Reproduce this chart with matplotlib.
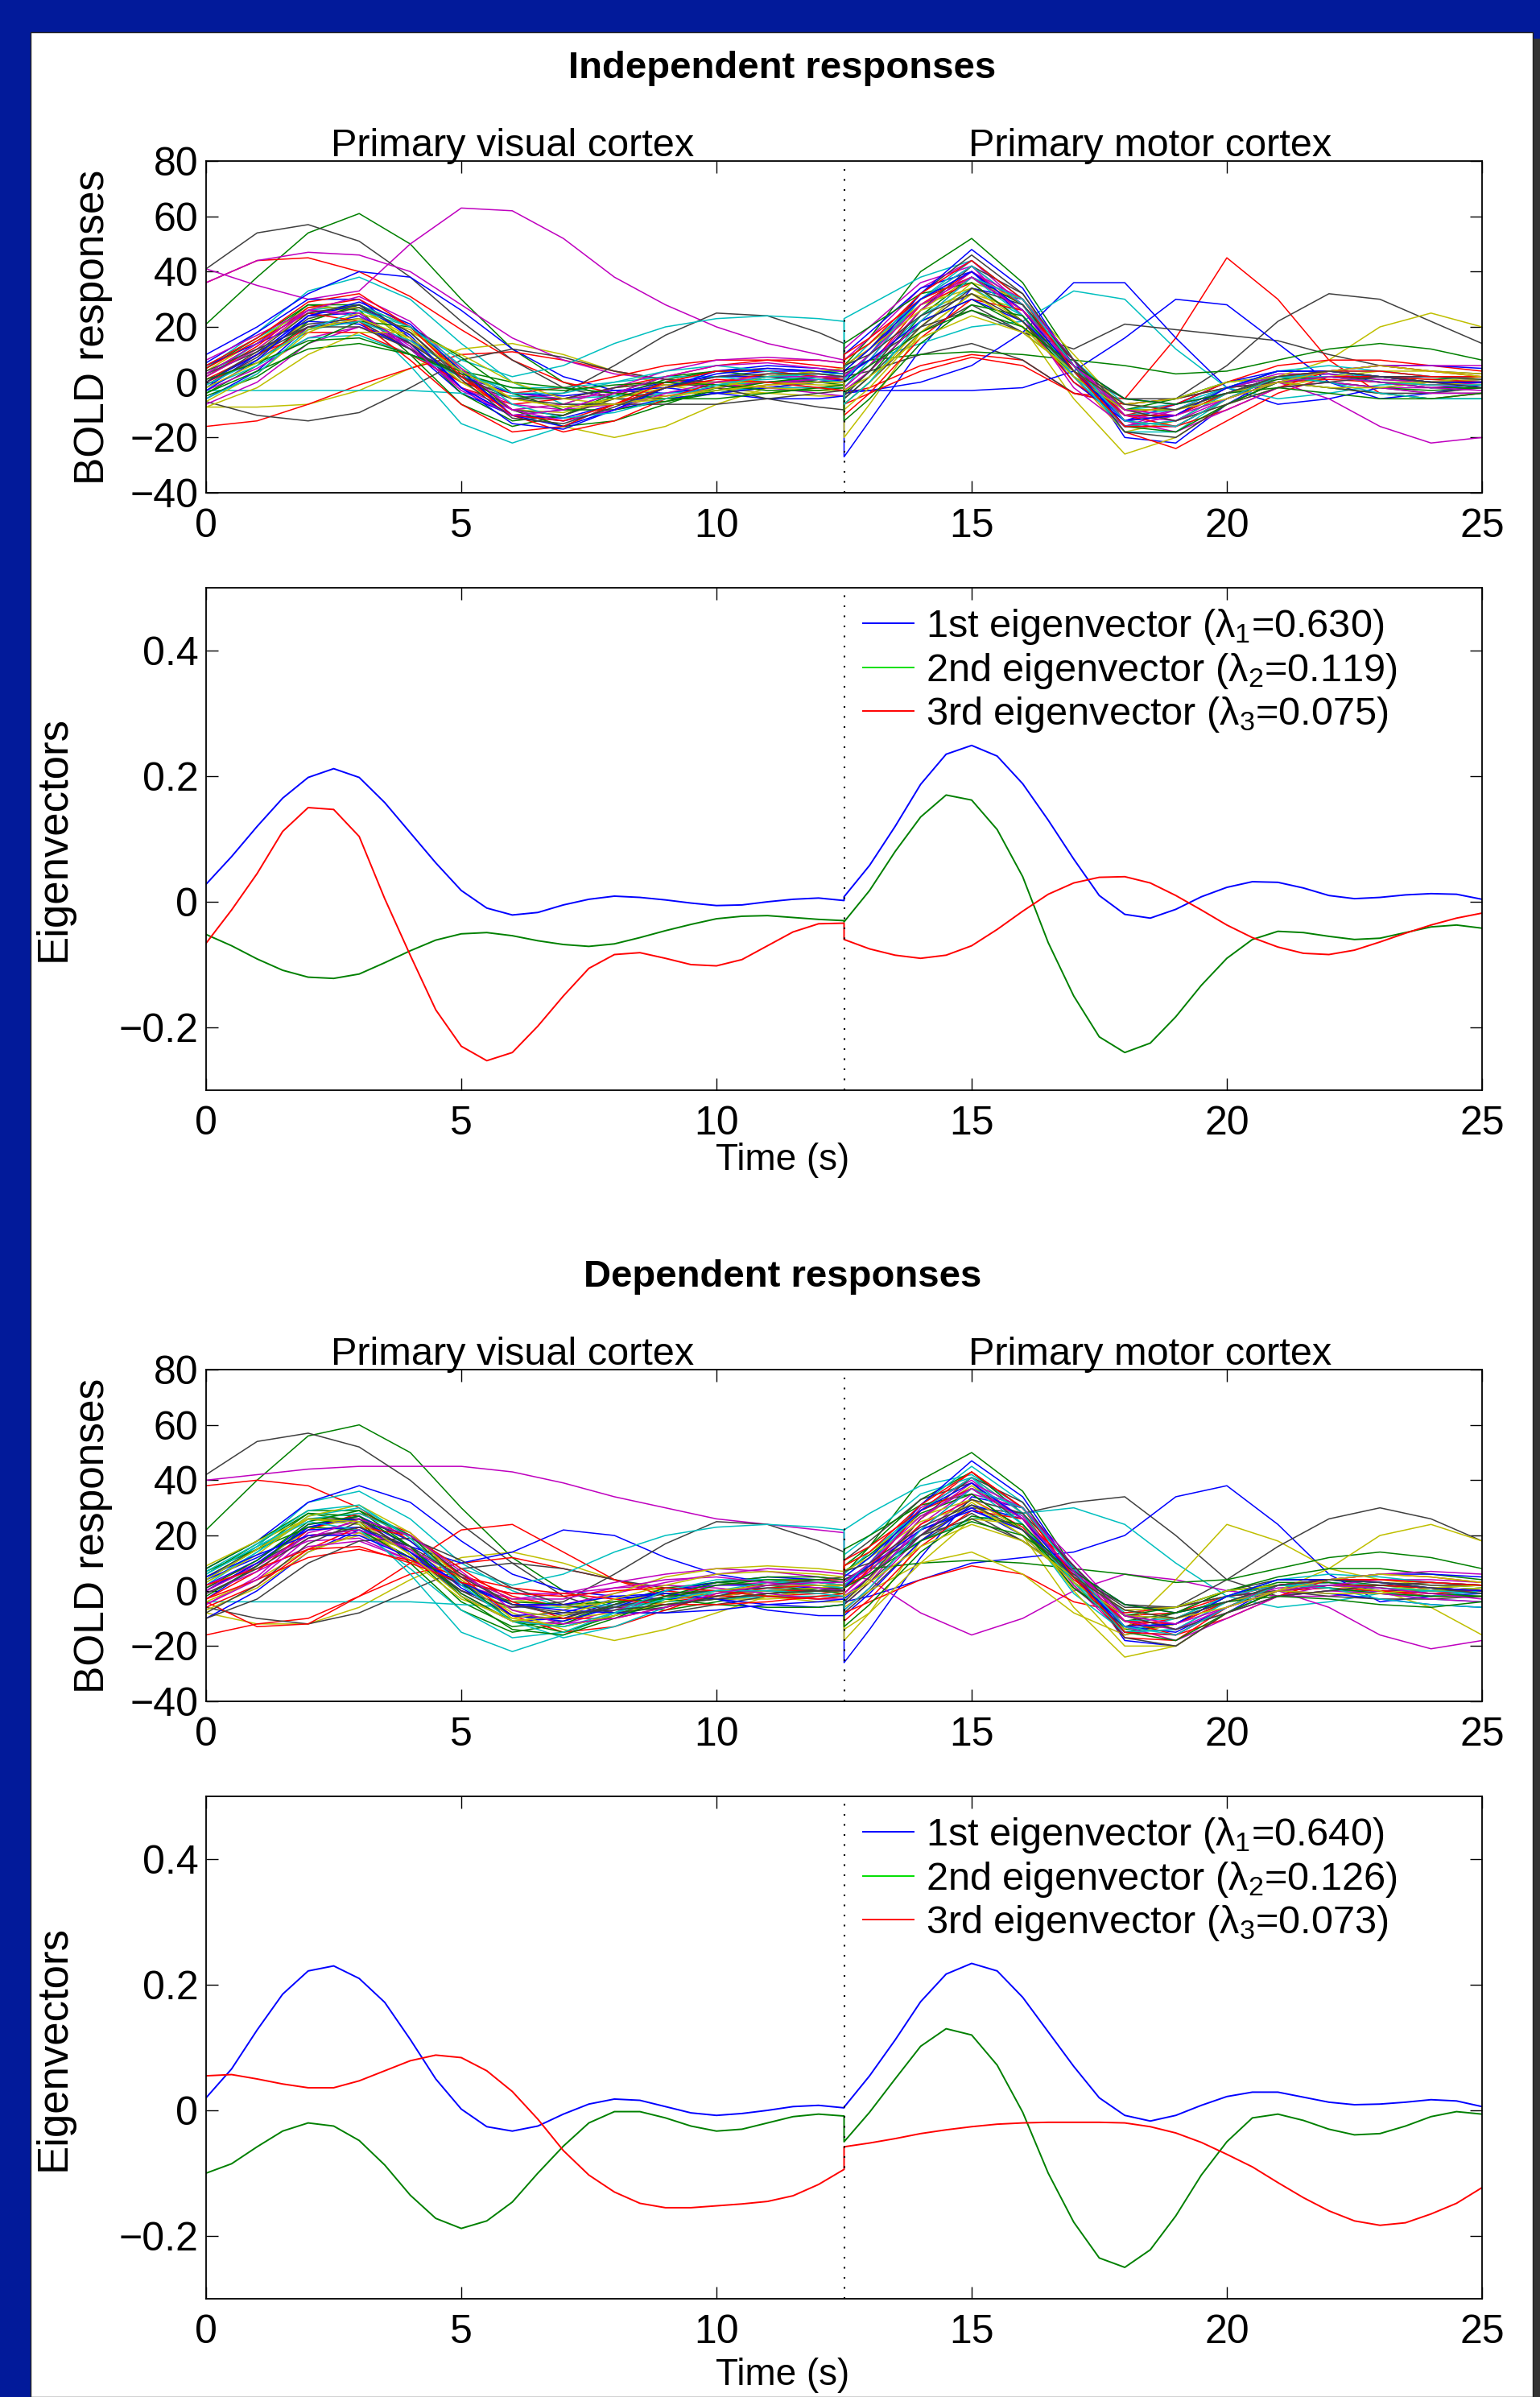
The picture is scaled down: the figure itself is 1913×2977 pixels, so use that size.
import numpy as np
import matplotlib.pyplot as plt
from matplotlib.lines import Line2D
from matplotlib.patches import Rectangle
from matplotlib.transforms import blended_transform_factory

plt.rcParams['font.family'] = ['Liberation Sans', 'DejaVu Sans']
plt.rcParams['mathtext.fontset'] = 'custom'
plt.rcParams['mathtext.rm'] = 'Liberation Sans'
plt.rcParams['mathtext.it'] = 'Liberation Sans'

W, H = 1913, 2977

# couleurs matlab (ordre par defaut)
colors = [(0, 0, 1), (0, 0.5, 0), (1, 0, 0), (0, 0.75, 0.75),
          (0.75, 0, 0.75), (0.75, 0.75, 0), (0.25, 0.25, 0.25)]

# temps : cortex visuel 0..12.5, cortex moteur 12.5..25
t_vis = list(range(13)) + [12.5]
t_mot = [12.5] + list(range(13, 26))
t_eig_vis = list(np.arange(0, 12.51, 0.5))
t_eig_mot = list(np.arange(12.5, 25.01, 0.5))

# ---- reponses BOLD, independantes (une ligne par voxel) ----
ind_vis = [
    [-2, 10, 24, 25, 12, -4, -12, -10, -4, 0, 2, 2, 1, 0],
    [21, 38, 54, 61, 50, 30, 12, 0, -6, -7, -4, -1, 1, 2],
    [36, 44, 45, 40, 31, 19, 8, 0, -4, -5, -3, -1, 0, 1],
    [5, 18, 33, 38, 30, 14, 0, -8, -8, -4, -1, 0, 1, 2],
    [41, 35, 30, 33, 50, 63, 62, 52, 38, 28, 20, 14, 10, 8],
    [-9, -9, -8, -3, 5, 12, 14, 10, 4, -1, -4, -4, -2, -1],
    [41, 54, 57, 51, 38, 22, 8, -2, -6, -6, -4, -2, 0, 1],
    [10, 20, 32, 40, 38, 26, 12, 2, -3, -4, -2, 0, 1, 1],
    [3, 14, 28, 28, 14, -4, -14, -12, -5, 1, 4, 4, 2, 1],
    [-16, -14, -8, -1, 5, 10, 11, 8, 4, 1, -1, -2, -2, -2],
    [-3, -3, -3, -3, -3, -4, -5, -6, -5, -4, -3, -2, -2, -2],
    [36, 44, 47, 46, 40, 28, 16, 8, 3, 1, 0, 0, 0, 0],
    [0, 10, 22, 28, 20, 4, -10, -16, -20, -16, -8, -2, 0, 0],
    [-7, -12, -14, -11, -2, 8, 12, 9, 4, 1, 0, 0, 1, 1],
    [-6, 4, 20, 24, 14, -2, -12, -13, -8, -2, 2, 4, 4, 3],
    [5, 16, 28, 26, 10, -8, -16, -12, -4, 2, 4, 2, 0, -1],
    [0, 8, 20, 22, 12, -2, -8, -6, -2, 2, 6, 8, 8, 7],
    [2, 14, 26, 24, 6, -15, -22, -16, -8, -2, 0, 1, 2, 2],
    [-8, 0, 14, 20, 14, 2, -8, -10, -8, -5, -2, 0, 1, 1],
    [2, 12, 25, 27, 16, 0, -10, -8, -2, 0, -2, -4, -5, -5],
    [0, 10, 20, 22, 12, 0, -6, -4, 6, 17, 25, 24, 18, 14],
    [7, 18, 30, 30, 16, -2, -12, -14, -10, -6, -4, -2, 0, 1],
    [-4, 6, 22, 28, 20, 4, -10, -16, -14, -8, -2, 2, 4, 4],
    [1, 10, 18, 18, 10, 0, -4, -2, 2, 6, 8, 8, 6, 5],
    [6, 16, 26, 28, 20, 8, 2, 6, 14, 20, 23, 24, 23, 22],
    [-3, 5, 16, 20, 15, 4, -4, -6, -4, -1, 0, -2, -4, -5],
    [4, 15, 27, 27, 15, 0, -10, -11, -6, -1, 0, -2, -3, -3],
    [-1, 9, 23, 27, 18, 2, -10, -12, -6, 0, 4, 5, 4, 3],
    [6, 14, 22, 21, 12, 2, -4, -5, -3, -2, -4, -6, -6, -5],
    [-5, 2, 14, 22, 20, 9, -4, -10, -10, -7, -3, 0, 2, 2],
    [2, 13, 27, 30, 20, 3, -12, -18, -14, -6, 0, 3, 3, 2],
    [-2, 6, 16, 17, 10, 2, -2, -2, 0, 2, 2, 0, -2, -3],
    [8, 17, 26, 24, 12, -2, -10, -8, -2, 4, 8, 9, 8, 7],
    [-7, 3, 18, 25, 19, 5, -6, -9, -6, -2, 0, 0, -1, -1],
    [3, 11, 21, 23, 14, 2, -6, -6, -2, 0, -2, -6, -9, -10],
    [0, 10, 24, 29, 21, 4, -12, -16, -10, -2, 4, 6, 5, 4],
    [-4, 4, 12, 14, 10, 4, 0, -2, -4, -6, -6, -4, -2, -1],
    [5, 15, 25, 22, 8, -8, -18, -16, -8, 0, 4, 4, 2, 1],
    [-1, 8, 19, 22, 15, 4, -4, -4, 0, 4, 6, 4, 1, 0],
    [2, 12, 26, 31, 22, 5, -10, -14, -10, -4, 0, 2, 2, 2],
    [-9, -2, 10, 18, 18, 10, 0, -6, -8, -6, -2, 2, 4, 5],
    [4, 12, 20, 20, 12, 2, -6, -8, -8, -8, -8, -6, -4, -3],
    [-3, 8, 24, 28, 17, -2, -15, -17, -10, -2, 3, 5, 4, 3],
    [1, 7, 15, 16, 10, 3, -2, -3, -1, 0, -1, -3, -3, -2],
    [6, 16, 29, 32, 20, 2, -12, -14, -8, -2, 1, 0, -2, -3],
    [-6, 3, 19, 26, 20, 6, -8, -13, -11, -6, -1, 2, 3, 3],
    [3, 14, 26, 25, 13, -3, -12, -10, -4, 2, 6, 7, 5, 4],
    [-2, 7, 19, 23, 16, 4, -6, -9, -8, -5, -3, -1, 0, 0],
    [0, 11, 25, 28, 18, 1, -13, -15, -9, -2, 2, 3, 3, 2],
]
ind_mot = [
    [-27, -14, 12, 34, 30, 8, -20, -22, -8, 2, 3, 0, -2, -1],
    [6, 16, 40, 52, 36, 8, -14, -12, -2, 4, 4, 2, 1, 2],
    [-4, -2, 6, 10, 8, -4, -6, 16, 45, 30, 8, -4, -6, -4],
    [23, 28, 38, 44, 30, 8, -8, -6, 0, 2, 3, 2, 0, 0],
    [2, 10, 30, 42, 28, 4, -14, -10, -2, 2, 2, 0, -1, 0],
    [-20, -8, 18, 32, 20, -6, -26, -20, -8, 0, 2, 2, 0, 1],
    [2, 4, 10, 14, 8, -4, -8, -6, 6, 22, 32, 30, 22, 14],
    [-4, -3, 0, 6, 18, 36, 36, 16, -2, -8, -6, -2, 0, 0],
    [-6, 2, 24, 38, 28, 6, -12, -12, -4, 1, 2, 1, 0, 0],
    [0, 6, 28, 40, 28, 2, -18, -24, -14, -4, 2, 2, 0, 0],
    [4, 8, 14, 20, 22, 33, 30, 12, -2, -6, -4, -1, 0, 1],
    [8, 16, 34, 44, 28, 2, -16, -12, -2, 3, 3, 1, 0, 1],
    [-4, 4, 26, 38, 26, 2, -18, -14, -4, 2, 8, 20, 25, 20],
    [-8, 0, 18, 28, 18, 12, 21, 19, 17, 15, 10, 6, 4, 3],
    [-3, -3, -3, -3, -2, 4, 16, 30, 28, 14, 0, -6, -4, -1],
    [4, 8, 10, 11, 10, 8, 6, 3, 4, 8, 12, 14, 12, 8],
    [-8, -4, 4, 9, 6, -4, -8, -6, -2, 0, 1, 0, -1, 0],
    [0, 6, 24, 34, 24, 4, -10, -8, -2, 2, 4, 4, 2, 1],
    [2, 8, 30, 40, 26, 2, -16, -12, -2, 0, -6, -16, -22, -20],
    [-10, -2, 18, 32, 26, 6, -14, -16, -6, 2, 4, 2, 0, -1],
    [4, 12, 32, 46, 32, 6, -16, -14, -4, 2, 0, -2, -4, -4],
    [10, 18, 34, 40, 24, 0, -14, -8, 0, 4, 4, 2, 2, 2],
    [-4, 4, 22, 30, 20, 2, -10, -10, -4, 0, -2, -4, -6, -6],
    [6, 12, 28, 36, 22, 0, -12, -8, 0, 6, 8, 8, 6, 4],
    [-2, 8, 30, 44, 30, 4, -18, -18, -6, 2, 2, 0, -2, -2],
    [12, 20, 36, 42, 24, -2, -16, -10, -2, 2, 0, -2, -2, 0],
    [-8, 0, 20, 36, 30, 10, -10, -14, -8, -2, 2, 4, 4, 3],
    [3, 8, 20, 26, 18, 4, -6, -6, -2, 0, -2, -4, -4, -2],
    [0, 10, 32, 48, 34, 6, -16, -16, -6, 0, 2, 2, 0, 0],
    [14, 20, 32, 36, 22, 2, -10, -6, 0, 2, 0, -2, -3, -2],
    [-12, -4, 16, 30, 26, 8, -12, -16, -10, -2, 4, 6, 4, 2],
    [5, 14, 30, 38, 24, 2, -12, -10, -2, 4, 6, 4, 2, 2],
    [-3, 4, 22, 38, 30, 8, -14, -18, -10, -2, 0, -2, -4, -4],
    [8, 14, 28, 34, 22, 4, -8, -6, 0, 2, 2, 0, 0, 1],
    [-5, 4, 26, 42, 32, 6, -18, -20, -8, 0, 2, 2, 0, 0],
    [2, 8, 22, 30, 22, 6, -6, -8, -4, 0, 4, 6, 6, 5],
    [-14, -6, 14, 28, 24, 4, -16, -18, -8, 0, 2, 0, -2, -2],
    [10, 16, 30, 38, 26, 4, -12, -12, -4, 2, 2, 2, 1, 0],
    [1, 10, 30, 42, 28, 2, -16, -14, -4, 2, 0, -4, -6, -6],
    [-2, 6, 26, 40, 30, 8, -12, -14, -6, 0, 4, 6, 6, 6],
    [6, 12, 26, 32, 20, 2, -10, -10, -4, 0, -2, -2, 0, 2],
    [-6, 2, 20, 34, 28, 8, -10, -14, -8, -2, 0, 2, 2, 1],
    [4, 12, 30, 40, 26, 4, -14, -12, -2, 4, 4, 2, 0, 0],
    [0, 6, 18, 26, 20, 6, -6, -8, -4, -2, -4, -6, -6, -4],
    [8, 14, 32, 44, 30, 4, -16, -16, -6, 2, 4, 4, 2, 2],
    [-8, 0, 22, 38, 30, 6, -14, -16, -6, 2, 2, 0, -1, -1],
    [2, 10, 28, 38, 26, 6, -10, -12, -6, 0, 2, 0, -2, -3],
    [-3, 2, 16, 24, 18, 4, -8, -10, -6, 0, 4, 6, 4, 2],
    [6, 10, 24, 32, 22, 4, -8, -10, -4, 2, 4, 2, 0, -2],
]

# ---- reponses BOLD, dependantes ----
dep_vis = [
    [-3, 9, 23, 26, 14, -2, -11, -10, -4, 0, 2, 2, 1, 0],
    [22, 40, 56, 60, 50, 30, 12, 0, -6, -7, -4, -1, 1, 2],
    [38, 40, 38, 30, 18, 6, -2, -6, -6, -4, -2, 0, 0, 0],
    [4, 16, 32, 36, 26, 10, 0, -6, -6, -3, -1, 0, 1, 2],
    [40, 42, 44, 45, 45, 45, 43, 39, 34, 30, 26, 24, 22, 21],
    [-8, -12, -12, -6, 4, 12, 14, 10, 4, -1, -3, -3, -2, -1],
    [42, 54, 57, 52, 40, 24, 10, -2, -8, -8, -5, -2, 0, 1],
    [8, 18, 32, 38, 32, 18, 6, 0, -2, -3, -2, 0, 1, 1],
    [4, 15, 28, 27, 13, -4, -13, -11, -5, 0, 3, 4, 3, 2],
    [-16, -12, -10, -2, 6, 10, 12, 8, 4, 0, -2, -2, -1, 0],
    [-4, -4, -4, -4, -4, -5, -6, -6, -5, -4, -3, -2, -2, -2],
    [-5, 5, 21, 25, 15, -1, -11, -12, -7, -2, 2, 3, 3, 2],
    [0, 10, 22, 27, 18, 4, -8, -14, -18, -14, -8, -2, 0, 0],
    [-6, -10, -12, -8, 0, 8, 10, 8, 4, 1, 0, 0, 1, 1],
    [-10, 0, 14, 22, 16, 10, 14, 22, 20, 12, 6, 3, 2, 2],
    [6, 17, 28, 25, 10, -7, -15, -12, -5, 1, 3, 2, 0, -1],
    [-4, -13, -12, -2, 10, 22, 24, 14, 4, -2, -3, -1, 0, 1],
    [2, 14, 26, 24, 6, -15, -22, -16, -8, -2, 0, 1, 2, 2],
    [1, 9, 20, 21, 12, 0, -6, -5, -1, 3, 6, 8, 7, 6],
    [-7, 1, 14, 21, 15, 3, -7, -10, -8, -5, -2, 0, 1, 2],
    [0, 10, 20, 22, 12, 0, -6, -4, 6, 17, 25, 24, 18, 14],
    [2, 11, 24, 26, 16, 1, -9, -8, -3, -1, -3, -5, -6, -5],
    [8, 18, 29, 29, 16, -1, -11, -13, -9, -5, -3, -1, 0, 1],
    [-3, 7, 22, 28, 21, 5, -9, -15, -13, -7, -1, 3, 4, 4],
    [6, 16, 26, 28, 20, 8, 2, 6, 14, 20, 23, 24, 23, 22],
    [2, 10, 18, 19, 11, 2, -3, -1, 3, 6, 8, 7, 5, 4],
    [-4, 4, 15, 20, 15, 5, -3, -6, -4, -1, 0, -2, -4, -4],
    [5, 15, 26, 26, 14, 0, -9, -10, -5, -1, 0, -2, -3, -2],
    [0, 10, 23, 27, 18, 3, -9, -11, -6, 0, 3, 5, 4, 3],
    [7, 15, 23, 22, 12, 2, -4, -5, -4, -3, -5, -6, -6, -5],
    [-6, 2, 15, 23, 20, 8, -4, -10, -10, -6, -2, 1, 2, 2],
    [3, 14, 27, 30, 20, 3, -11, -17, -13, -6, 0, 3, 3, 2],
    [-1, 7, 16, 18, 11, 3, -1, -1, 1, 2, 1, -1, -3, -3],
    [9, 18, 26, 24, 11, -3, -10, -7, -1, 5, 8, 9, 8, 7],
    [-8, 2, 17, 25, 20, 6, -5, -9, -6, -2, 0, 1, 0, 0],
    [4, 12, 22, 23, 14, 2, -5, -5, -2, -1, -3, -7, -9, -9],
    [1, 11, 25, 29, 20, 3, -11, -15, -9, -2, 3, 5, 5, 4],
    [-3, 4, 12, 15, 11, 5, 1, -1, -3, -5, -5, -4, -2, -1],
    [6, 16, 25, 22, 8, -7, -17, -15, -8, 0, 4, 4, 2, 1],
    [0, 9, 20, 22, 15, 5, -3, -3, 1, 4, 5, 3, 1, 0],
    [3, 13, 27, 31, 21, 4, -10, -13, -9, -4, 0, 2, 2, 2],
    [-10, -3, 10, 18, 19, 11, 1, -5, -8, -6, -2, 2, 4, 5],
    [5, 13, 20, 20, 12, 3, -5, -7, -8, -8, -7, -5, -4, -3],
    [-2, 9, 24, 27, 16, -2, -14, -16, -10, -3, 2, 4, 4, 3],
    [2, 8, 15, 16, 10, 3, -1, -2, 0, 1, 0, -2, -3, -2],
    [7, 17, 29, 31, 19, 2, -11, -13, -8, -3, 0, 0, -1, -2],
    [-5, 4, 19, 26, 20, 7, -7, -12, -10, -6, -1, 2, 3, 3],
    [4, 15, 26, 25, 13, -2, -11, -9, -3, 2, 6, 7, 6, 5],
    [-1, 8, 19, 23, 16, 5, -5, -8, -7, -5, -3, -1, 0, 0],
]
dep_mot = [
    [-26, -14, 12, 34, 30, 8, -18, -20, -8, 2, 3, 0, -2, -1],
    [6, 16, 40, 50, 36, 8, -14, -12, -2, 4, 4, 2, 1, 2],
    [1, 9, 29, 41, 28, 5, -13, -10, -2, 2, 3, 1, -1, 0],
    [22, 28, 38, 42, 30, 8, -8, -6, 0, 2, 3, 2, 0, 0],
    [-5, 3, 24, 37, 27, 6, -11, -12, -4, 1, 2, 2, 1, 0],
    [-18, -8, 18, 32, 20, -6, -24, -20, -8, 0, 2, 2, 0, 1],
    [2, 6, 20, 30, 28, 32, 34, 20, 4, -2, 0, 0, 0, 0],
    [-4, -2, 4, 10, 12, 14, 20, 34, 38, 24, 6, -4, -2, 0],
    [9, 16, 33, 43, 28, 3, -15, -12, -2, 3, 3, 1, 0, 1],
    [1, 7, 24, 33, 23, 4, -9, -8, -2, 2, 4, 4, 3, 2],
    [4, 8, 18, 26, 28, 30, 24, 10, -2, -6, -4, -1, 0, 1],
    [6, 4, -8, -16, -10, 0, 6, 4, 0, -2, -2, 0, -1, 0],
    [-4, 4, 26, 38, 26, 2, -14, 4, 24, 18, 8, 4, 2, 2],
    [-8, 0, 18, 28, 18, 6, -6, -6, 4, 16, 26, 30, 26, 18],
    [-9, -1, 18, 31, 26, 7, -13, -15, -6, 2, 4, 3, 1, 0],
    [4, 8, 10, 11, 10, 8, 6, 3, 4, 8, 12, 14, 12, 8],
    [-8, -4, 4, 9, 6, -4, -8, -6, -2, 0, 1, 0, -1, 0],
    [5, 12, 31, 45, 32, 7, -15, -14, -4, 2, 1, -1, -3, -4],
    [2, 8, 30, 40, 26, 2, -16, -12, -2, 0, -6, -16, -21, -18],
    [-6, 0, 10, 14, 6, -8, -16, -12, -4, 0, 8, 20, 24, 18],
    [11, 18, 33, 39, 24, 1, -13, -8, 0, 4, 4, 3, 2, 2],
    [-3, 5, 22, 30, 20, 3, -9, -10, -4, 0, -1, -3, -5, -6],
    [7, 13, 28, 35, 22, 1, -11, -8, 0, 5, 8, 8, 6, 4],
    [-1, 8, 29, 43, 30, 5, -17, -18, -6, 2, 2, 0, -2, -2],
    [13, 20, 35, 41, 24, -1, -15, -10, -2, 2, 1, -1, -2, 0],
    [-7, 1, 20, 35, 30, 11, -9, -14, -8, -2, 2, 4, 4, 3],
    [-14, -8, 10, 26, 24, 0, -20, -20, -8, 0, 2, 0, -6, -16],
    [4, 9, 20, 26, 18, 5, -5, -6, -2, 0, -2, -3, -3, -2],
    [1, 10, 31, 47, 34, 7, -15, -16, -6, 0, 2, 2, 1, 0],
    [15, 20, 31, 35, 22, 3, -9, -6, 0, 2, 1, -1, -2, -2],
    [-11, -3, 16, 29, 26, 9, -11, -16, -10, -2, 4, 6, 5, 3],
    [6, 14, 29, 37, 24, 3, -11, -10, -2, 4, 6, 5, 3, 2],
    [-2, 5, 22, 37, 30, 9, -13, -18, -10, -2, 0, -1, -3, -4],
    [9, 14, 27, 33, 22, 5, -7, -6, 0, 2, 2, 1, 0, 1],
    [-4, 5, 26, 41, 32, 7, -17, -20, -8, 0, 2, 2, 1, 0],
    [3, 9, 22, 29, 22, 7, -5, -8, -4, 0, 4, 6, 6, 5],
    [-13, -5, 14, 27, 24, 5, -15, -18, -8, 0, 2, 1, -1, -2],
    [11, 16, 29, 37, 26, 5, -11, -12, -4, 2, 2, 2, 1, 0],
    [2, 10, 29, 41, 28, 3, -15, -14, -4, 2, 1, -3, -5, -6],
    [-1, 7, 26, 39, 30, 9, -11, -14, -6, 0, 4, 6, 7, 6],
    [7, 12, 25, 31, 20, 3, -9, -10, -4, 0, -1, -1, 1, 2],
    [-5, 3, 20, 33, 28, 9, -9, -14, -8, -2, 0, 2, 3, 2],
    [5, 12, 29, 39, 26, 5, -13, -12, -2, 4, 4, 3, 1, 0],
    [1, 6, 18, 25, 20, 7, -5, -8, -4, -2, -3, -5, -6, -4],
    [9, 14, 31, 43, 30, 5, -15, -16, -6, 2, 4, 4, 3, 2],
    [-7, 1, 22, 37, 30, 7, -13, -16, -6, 2, 2, 1, 0, -1],
    [3, 10, 27, 37, 26, 7, -9, -12, -6, 0, 2, 1, -1, -3],
    [-2, 3, 16, 24, 18, 5, -7, -10, -6, 0, 4, 6, 5, 3],
    [7, 10, 23, 31, 22, 5, -7, -10, -4, 2, 4, 3, 1, -1],
]

# ---- vecteurs propres (pas de 0.5 s) ----
ind_ev1_vis = [0.028, 0.072, 0.12, 0.165, 0.198, 0.212, 0.198, 0.158, 0.110, 0.062, 0.018, -0.010, -0.021,
               -0.017, -0.005, 0.004, 0.009, 0.007, 0.003, -0.002, -0.006, -0.005, 0.000, 0.004, 0.006, 0.002]
ind_ev1_mot = [0.008, 0.058, 0.12, 0.187, 0.235, 0.249, 0.232, 0.188, 0.13, 0.068, 0.01, -0.02, -0.026,
               -0.012, 0.008, 0.023, 0.032, 0.031, 0.022, 0.01, 0.005, 0.007, 0.011, 0.013, 0.012, 0.004]
ind_ev2_vis = [-0.052, -0.070, -0.091, -0.109, -0.120, -0.122, -0.115, -0.097, -0.078, -0.061, -0.051, -0.049, -0.054,
               -0.062, -0.068, -0.071, -0.067, -0.057, -0.046, -0.036, -0.027, -0.023, -0.022, -0.025, -0.028, -0.030]
ind_ev2_mot = [-0.032, 0.018, 0.08, 0.135, 0.17, 0.162, 0.115, 0.04, -0.065, -0.15, -0.215, -0.24, -0.225,
               -0.183, -0.133, -0.09, -0.06, -0.047, -0.049, -0.055, -0.06, -0.058, -0.049, -0.04, -0.037, -0.042]
ind_ev3_vis = [-0.066, -0.013, 0.045, 0.112, 0.150, 0.147, 0.104, 0.005, -0.085, -0.172, -0.230, -0.253, -0.240,
               -0.198, -0.150, -0.106, -0.084, -0.081, -0.090, -0.100, -0.102, -0.092, -0.070, -0.048, -0.035, -0.034]
ind_ev3_mot = [-0.06, -0.075, -0.085, -0.09, -0.085, -0.07, -0.044, -0.015, 0.012, 0.03, 0.039, 0.04, 0.03,
               0.01, -0.013, -0.037, -0.057, -0.072, -0.082, -0.084, -0.077, -0.064, -0.05, -0.037, -0.026, -0.018]

dep_ev1_vis = [0.02, 0.066, 0.128, 0.185, 0.222, 0.23, 0.21, 0.172, 0.113, 0.05, 0.002, -0.026, -0.033,
               -0.025, -0.006, 0.01, 0.018, 0.016, 0.006, -0.004, -0.008, -0.005, 0.0, 0.006, 0.008, 0.004]
dep_ev1_mot = [0.005, 0.055, 0.112, 0.173, 0.217, 0.234, 0.222, 0.18, 0.125, 0.07, 0.02, -0.008, -0.017,
               -0.008, 0.008, 0.022, 0.029, 0.029, 0.021, 0.013, 0.009, 0.01, 0.013, 0.017, 0.015, 0.006]
dep_ev2_vis = [-0.1, -0.085, -0.058, -0.033, -0.02, -0.025, -0.048, -0.087, -0.135, -0.172, -0.188, -0.176, -0.146,
               -0.1, -0.057, -0.02, -0.002, -0.002, -0.012, -0.025, -0.033, -0.03, -0.02, -0.01, -0.006, -0.009]
dep_ev2_mot = [-0.05, -0.003, 0.05, 0.102, 0.13, 0.12, 0.072, -0.003, -0.1, -0.178, -0.235, -0.25, -0.222,
               -0.168, -0.103, -0.05, -0.012, -0.006, -0.016, -0.03, -0.039, -0.037, -0.025, -0.01, -0.002, -0.006]
dep_ev3_vis = [0.055, 0.057, 0.05, 0.042, 0.036, 0.036, 0.047, 0.063, 0.079, 0.088, 0.084, 0.063, 0.03,
               -0.014, -0.064, -0.103, -0.13, -0.148, -0.155, -0.155, -0.152, -0.149, -0.145, -0.136, -0.118, -0.094]
dep_ev3_mot = [-0.058, -0.052, -0.045, -0.037, -0.031, -0.026, -0.022, -0.02, -0.019, -0.019, -0.019, -0.02, -0.026,
               -0.036, -0.051, -0.07, -0.09, -0.115, -0.139, -0.16, -0.176, -0.183, -0.179, -0.165, -0.148, -0.123]

ind_labels = ['1st eigenvector ($\\lambda_1$=0.630)', '2nd eigenvector ($\\lambda_2$=0.119)',
              '3rd eigenvector ($\\lambda_3$=0.075)']
dep_labels = ['1st eigenvector ($\\lambda_1$=0.640)', '2nd eigenvector ($\\lambda_2$=0.126)',
              '3rd eigenvector ($\\lambda_3$=0.073)']

# ---- figure ----
fig = plt.figure(figsize=(W / 100, H / 100), dpi=100, facecolor='#021a9a')
fig.patches.append(Rectangle((1904 / W, 0), 9 / W, 1 - 48 / H, transform=fig.transFigure,
                             facecolor='#333333', edgecolor='none', zorder=-6))
fig.patches.append(Rectangle((38 / W, 0), (1904 - 38) / W, 1 - 40 / H, transform=fig.transFigure,
                             facecolor='white', edgecolor='#222222', lw=1, zorder=-5))


def make_axes(top, bottom):
    ax = fig.add_axes([256 / W, 1 - bottom / H, 1585 / W, (bottom - top) / H])
    ax.set_xlim(0, 25)
    ax.set_xticks([0, 5, 10, 15, 20, 25])
    ax.tick_params(direction='in', length=11, width=1, top=True, right=True, labelsize=36)
    ax.tick_params(axis='x', pad=14)
    ax.tick_params(axis='y', pad=7)
    for s in ax.spines.values():
        s.set_linewidth(1.3)
    ax.axvline(12.5, color='k', lw=1.5, linestyle=(0, (1, 5)), zorder=3)
    return ax


def bold_panel(top, bottom, vis, mot):
    ax = make_axes(top, bottom)
    for i in range(len(vis)):
        ax.plot(t_vis + t_mot, vis[i] + mot[i], color=colors[i % 7], lw=1.1)
    ax.set_ylim(-40, 80)
    ax.set_yticks([-40, -20, 0, 20, 40, 60, 80])
    ax.set_ylabel('BOLD responses', fontsize=37)
    ax.yaxis.set_label_coords(-0.073, 0.5)
    tr = blended_transform_factory(ax.transData, ax.transAxes)
    ax.text(6.0, 1 + 6 / (bottom - top), 'Primary visual cortex', transform=tr,
            ha='center', va='baseline', fontsize=35)
    ax.text(18.5, 1 + 6 / (bottom - top), 'Primary motor cortex', transform=tr,
            ha='center', va='baseline', fontsize=35)
    return ax


def eig_panel(top, bottom, ev, labels):
    ax = make_axes(top, bottom)
    ecol = [(0, 0, 1), (0, 0.5, 0), (1, 0, 0)]
    for k in range(3):
        ax.plot(t_eig_vis + t_eig_mot, ev[k][0] + ev[k][1], color=ecol[k], lw=1.4)
    ax.set_ylim(-0.3, 0.5)
    ax.set_yticks([-0.2, 0, 0.2, 0.4])
    ax.set_yticklabels(['\u22120.2', '0', '0.2', '0.4'])
    ax.set_ylabel('Eigenvectors', fontsize=38)
    ax.yaxis.set_label_coords(-0.1035, 0.5)
    handles = [Line2D([], [], color=c, lw=1.4) for c in ['#0000ff', '#00e000', '#ff0000']]
    ax.legend(handles, labels, loc='upper left', bbox_to_anchor=(0.515, 0.962), frameon=False,
              fontsize=35, handlelength=1.3, handletextpad=0.3, labelspacing=0.12, borderaxespad=0,
              borderpad=0)
    return ax


bold_panel(200, 612, ind_vis, ind_mot)
eig_panel(730, 1354, [[ind_ev1_vis, ind_ev1_mot], [ind_ev2_vis, ind_ev2_mot], [ind_ev3_vis, ind_ev3_mot]],
          ind_labels)
bold_panel(1701, 2113, dep_vis, dep_mot)
eig_panel(2231, 2855, [[dep_ev1_vis, dep_ev1_mot], [dep_ev2_vis, dep_ev2_mot], [dep_ev3_vis, dep_ev3_mot]],
          dep_labels)

xc = 972 / W
fig.text(xc, 1 - 85 / H, 'Independent responses', ha='center', va='center', fontsize=34, fontweight='bold')
fig.text(xc, 1 - 1586 / H, 'Dependent responses', ha='center', va='center', fontsize=34, fontweight='bold')
fig.text(xc, 1 - 1441 / H, 'Time (s)', ha='center', va='center', fontsize=33)
fig.text(xc, 1 - 2950 / H, 'Time (s)', ha='center', va='center', fontsize=33)

fig.savefig('out.png', dpi=100, facecolor=fig.get_facecolor())
